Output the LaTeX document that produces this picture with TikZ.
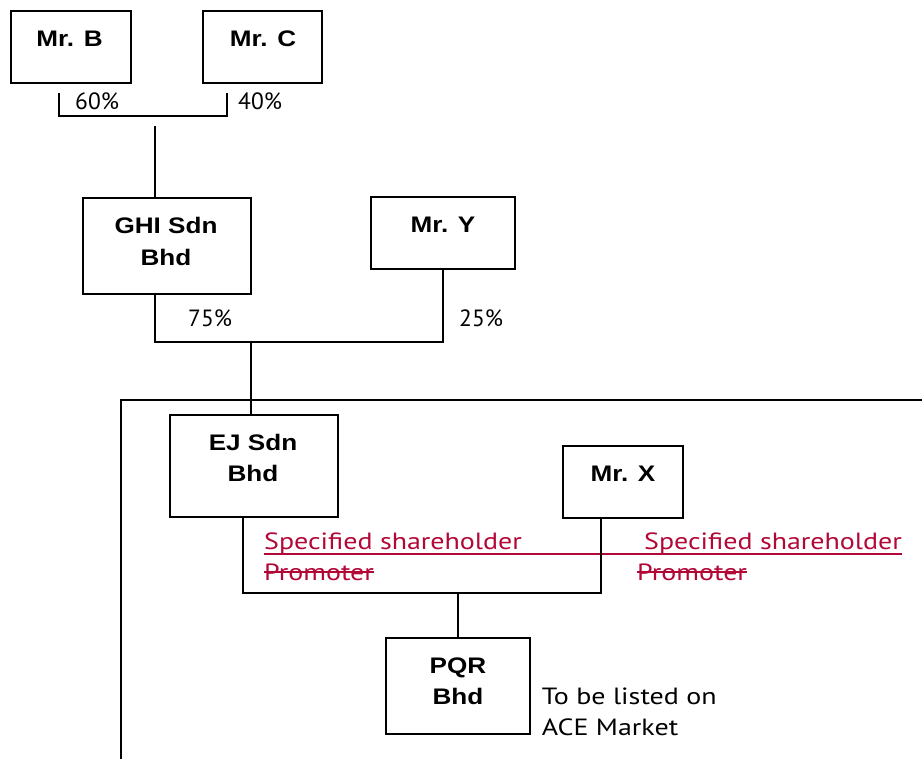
\documentclass[tikz,border=0pt]{standalone}
\usepackage{fontspec}
\setmainfont{PT Sans}
\newfontfamily\boxfont{Liberation Sans}[BoldFont={Liberation Sans Bold}]
\definecolor{redtxt}{RGB}{178,8,56}
\tikzset{
  box/.style={draw, line width=1.8pt, inner sep=0pt, outer sep=0pt},
  conn/.style={line width=1.8pt},
  blabel/.style={inner sep=0pt, anchor=base, font=\boxfont\bfseries\fontsize{22.5}{26}\selectfont},
  pct/.style={inner sep=0pt, anchor=base west, font=\fontsize{23.5}{28}\selectfont},
  redlab/.style={inner sep=0pt, anchor=base west, text=redtxt, font=\fontsize{23.5}{28}\selectfont},
}
\newcommand{\widetxt}[1]{\scalebox{1.16}[1]{#1}}
\newcommand{\widenote}[1]{\scalebox{1.19}[1]{#1}}
\begin{document}
\begin{tikzpicture}[x=1pt,y=-1pt]
\useasboundingbox (0,0) rectangle (922,759);
% boxes
\node[box, minimum width=120, minimum height=72] (mrb) at (71,47) {};
\node[box, minimum width=119, minimum height=72] (mrc) at (262.5,47) {};
\node[box, minimum width=168, minimum height=96] (ghi) at (167,246) {};
\node[box, minimum width=144, minimum height=72] (mry) at (443,233) {};
\node[box, minimum width=168, minimum height=102] (ej) at (254,466) {};
\node[box, minimum width=120, minimum height=72] (mrx) at (623,482) {};
\node[box, minimum width=144, minimum height=96] (pqr) at (458,686) {};
% box labels
\node[blabel] (tb) at (69.5,46.7) {\widetxt{Mr. B}};
\node[blabel] (tc) at (263,46.7) {\widetxt{Mr. C}};
\node[blabel] (tg1) at (166,234) {\widetxt{GHI Sdn}};
\node[blabel] (tg2) at (166,266) {\widetxt{Bhd}};
\node[blabel] (ty) at (443,233) {\widetxt{Mr. Y}};
\node[blabel] (te1) at (253,450.7) {\widetxt{EJ Sdn}};
\node[blabel] (te2) at (253,481.7) {\widetxt{Bhd}};
\node[blabel] (tx) at (623,481.7) {\widetxt{Mr. X}};
\node[blabel] (tp1) at (458,673) {\widetxt{PQR}};
\node[blabel] (tp2) at (458,704) {\widetxt{Bhd}};
% percentages
\node[pct] (p60) at (75,110) {60\%};
\node[pct] (p40) at (238,110) {40\%};
\node[pct] (p75) at (188,326.7) {75\%};
\node[pct] (p25) at (459,326.7) {25\%};
\node[pct] (ace1) at (541.7,704) {\widenote{To be listed on}};
\node[pct] (ace2) at (541.7,735) {\widenote{ACE Market}};
% red labels
\node[redlab] (ss1) at (264,549) {\widenote{Specified shareholder}};
\node[redlab] (ss2) at (644,549) {\widenote{Specified shareholder}};
\node[redlab] (pr1) at (264,580) {\widenote{Promoter}};
\node[redlab] (pr2) at (637,580) {\widenote{Promoter}};
\draw[redtxt, line width=1.5pt] (ss1.base west) ++(0,5) coordinate (ul1) -- (ul1 -| ss2.east);
\draw[redtxt, line width=1.3pt] (pr1.base west) ++(0,-8) coordinate (st1) -- (st1 -| pr1.east);
\draw[redtxt, line width=1.3pt] (pr2.base west) ++(0,-8) coordinate (st2) -- (st2 -| pr2.east);
% top bracket
\coordinate (bl) at (59,93);
\coordinate (br) at (227,93);
\draw[conn] (bl) -- (59,116) -- (227,116) -- (br);
\coordinate (c1) at (155,126);
\draw[conn] (c1) -- (c1 |- ghi.north);
% GHI / Mr Y
\coordinate (g1) at (155,294);
\draw[conn] (g1) -- (155,342) -- (443,342) -- (mry.south);
\coordinate (t1) at (251,342);
\draw[conn] (t1) -- (t1 |- ej.north);
% frame
\coordinate (f1) at (121,759);
\coordinate (f2) at (922,400);
\draw[conn] (f1) -- (f1 |- f2) -- (f2);
% EJ / Mr X
\coordinate (e1) at (243,517);
\coordinate (x1) at (601,518);
\draw[conn] (e1) -- (243,593) -- (601,593) -- (x1);
\coordinate (t2) at (458,593);
\draw[conn] (t2) -- (pqr.north);
\end{tikzpicture}
\end{document}
